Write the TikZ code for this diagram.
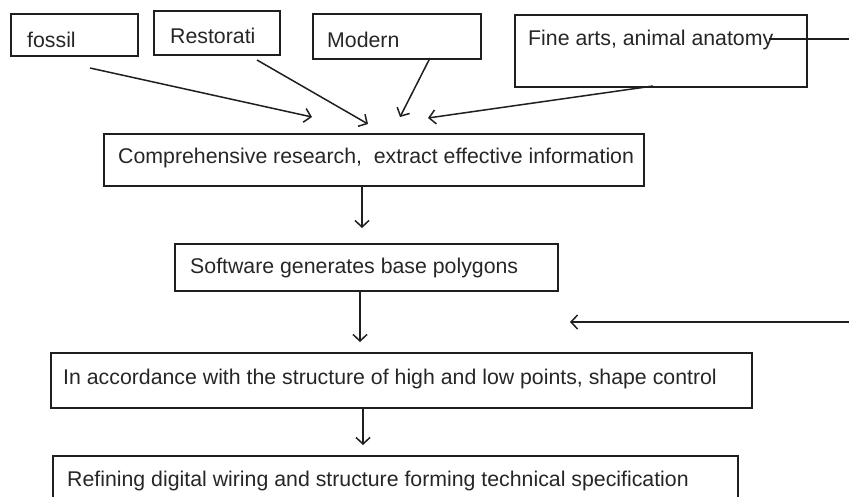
\documentclass[tikz,border=0pt]{standalone}
\usepackage{fontspec}
\setmainfont{Liberation Sans}
\usetikzlibrary{arrows.meta}
\begin{document}
\begin{tikzpicture}[x=1pt,y=-1pt,
  boxnode/.style={draw=black!88, line width=1.8pt, rectangle, anchor=north west, inner sep=0pt},
  lbl/.style={anchor=base west, inner sep=0pt, font=\fontsize{21.3}{25}\selectfont, text=black!85},
  arr/.style={line width=1.5pt, draw=black!88, -{Straight Barb[length=6.5pt,width=14pt,line width=1.5pt]}},
  plain/.style={line width=1.4pt, draw=black!88}]
\useasboundingbox (0,0) rectangle (849,496);
\clip (0,0) rectangle (849,496);
% boxes
\node[boxnode, minimum width=127pt, minimum height=42pt] (fossil) at (10,13) {};
\node[boxnode, minimum width=126pt, minimum height=44pt] (restor) at (153,10) {};
\node[boxnode, minimum width=168pt, minimum height=45pt] (modern) at (312,13) {};
\node[boxnode, minimum width=292pt, minimum height=72pt] (fine) at (514,14) {};
\node[boxnode, minimum width=540pt, minimum height=52pt] (comp) at (103,133) {};
\node[boxnode, minimum width=383pt, minimum height=47pt] (soft) at (174,243) {};
\node[boxnode, minimum width=701pt, minimum height=55pt] (acc) at (50,352) {};
\node[boxnode, minimum width=685pt, minimum height=60pt] (refn) at (52,455) {};
% texts
\node[lbl] (fossilT) at (27,47) {fossil};
\node[lbl] (restorT) at (170,43) {Restorati};
\node[lbl] (modernT) at (327,47) {Modern};
\node[lbl] (fineT) at (528,45) {Fine arts, animal anatomy};
\node[lbl] (compT) at (118,163) {Comprehensive research,\ \ extract effective information};
\node[lbl] (softT) at (190,273) {Software generates base polygons};
\node[lbl] (accT) at (63,384) {In accordance with the structure of high and low points, shape control};
\node[lbl] (refnT) at (67,486) {Refining digital wiring and structure forming technical specification};
% coordinates
\coordinate (f1) at (90,68);   \coordinate (e1) at (312,117);
\coordinate (f2) at (257,60);  \coordinate (e2) at (368,124);
\coordinate (f3) at (430,58);  \coordinate (e3) at (400,117);
\coordinate (f4) at (653,86);  \coordinate (e4) at (428,118);
\coordinate (c1) at (362,185); \coordinate (c2) at (362,228);
\coordinate (s1) at (360,290); \coordinate (s2) at (360,342);
\coordinate (r1) at (849,322); \coordinate (r2) at (570,322);
\coordinate (a1) at (363,407); \coordinate (a2) at (363,445);
\coordinate (l1) at (769,39);  \coordinate (l2) at (849,39);
% connectors
\draw[arr] (f1) -- (e1);
\draw[arr] (f2) -- (e2);
\draw[arr] (f3) -- (e3);
\draw[arr] (f4) -- (e4);
\draw[arr] (c1) -- (c2);
\draw[arr] (s1) -- (s2);
\draw[arr] (r1) -- (r2);
\draw[arr] (a1) -- (a2);
\draw[plain] (l1) -- (l2);
\end{tikzpicture}
\end{document}
